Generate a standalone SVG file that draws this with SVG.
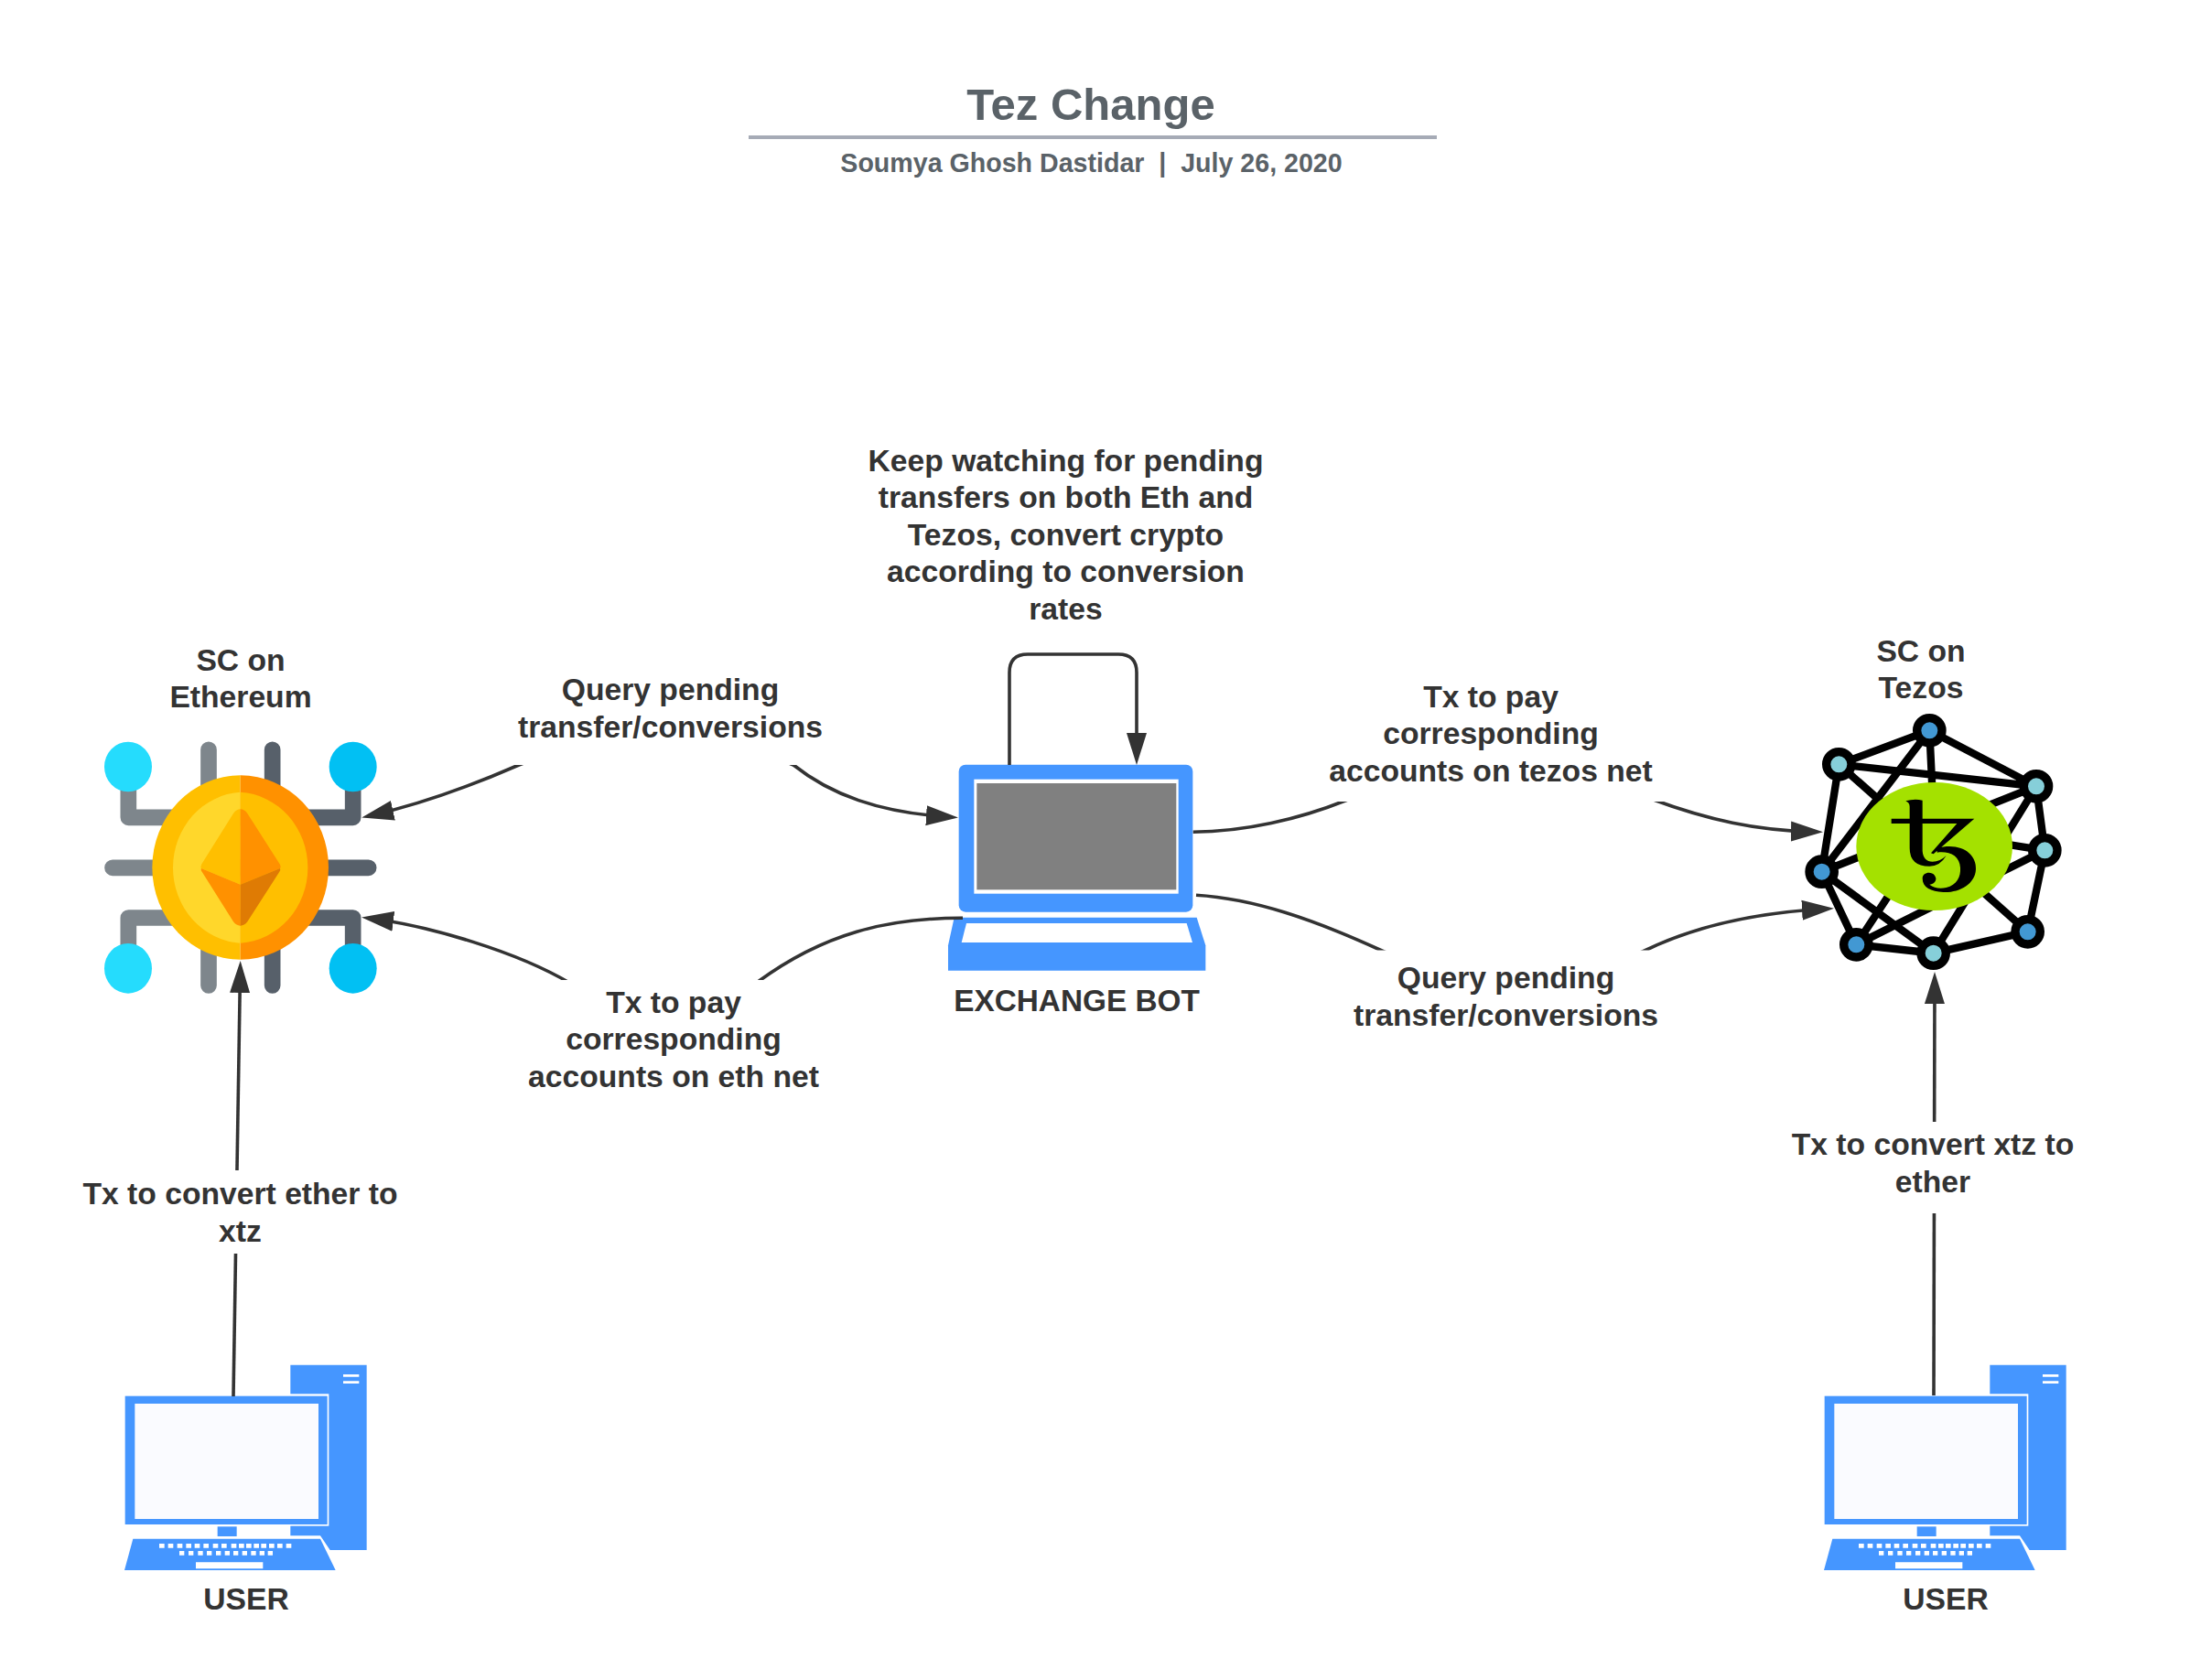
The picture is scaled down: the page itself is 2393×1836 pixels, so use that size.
<svg xmlns="http://www.w3.org/2000/svg" width="2393" height="1836" viewBox="0 0 2393 1836">
<style>
text{font-family:"Liberation Sans",Arial,sans-serif;font-weight:700;font-size:33.67px;fill:#333;text-anchor:middle}
.title{font-size:49px;fill:#5a6268}
.sub{font-size:28.6px;fill:#5a6268;white-space:pre}
.bot{font-size:33.33px}
.c{fill:none;stroke:#333;stroke-width:3.6}
.b{fill:#fff}
.blue{fill:#4596ff}
.e{stroke:#000;stroke-width:25;fill:none}
.n{stroke:#000;stroke-width:28}
.d{fill:#4298d3}
.l{fill:#86cfd9}
.g1{stroke:#7e868c;stroke-width:53;fill:none;stroke-linejoin:round;stroke-linecap:round}
.g2{stroke:#57606a;stroke-width:53;fill:none;stroke-linejoin:round;stroke-linecap:round}
</style>
<defs>
<marker id="arrow" markerUnits="userSpaceOnUse" markerWidth="36" markerHeight="24" viewBox="0 0 36 24" refX="25" refY="12" orient="auto-start-reverse">
<path d="M0,1 L35,12 L0,23 Z" fill="#333"/>
</marker>
<g id="pc" transform="translate(120 1480) scale(.33333)">
<path class="blue" d="M592,35 H842 V642 H722 L690,595 H592 Z"/>
<path class="b" d="M765,66 H817 V74 H765 Z M765,88 H817 V96 H765 Z"/>
<rect class="b" x="40" y="130" width="678" height="433"/>
<rect class="blue" x="50" y="137" width="663" height="421"/>
<rect x="82" y="162" width="602" height="378" fill="#fafbff"/>
<rect class="blue" x="353" y="565" width="63" height="32"/>
<path class="blue" d="M76,605 H690 L740,708 H48 Z"/>
<path class="b" d="M162,621h17v14h-17z M191,621h17v14h-17z M221,621h17v14h-17z M250,621h17v14h-17z M278,621h17v14h-17z M307,621h17v14h-17z M338,621h17v14h-17z M366,621h17v14h-17z M398,621h17v14h-17z M423,621h17v14h-17z M447,621h17v14h-17z M472,621h17v14h-17z M496,621h17v14h-17z M522,621h17v14h-17z M549,621h17v14h-17z M578,621h17v14h-17z M228,645h16v14h-16z M258,645h16v14h-16z M289,645h16v14h-16z M318,645h16v14h-16z M348,645h16v14h-16z M377,645h16v14h-16z M405,645h16v14h-16z M434,645h16v14h-16z M463,645h16v14h-16z M491,645h16v14h-16z M518,645h16v14h-16z M282,682h220v21h-220z"/>
</g>
</defs>

<g id="title">
<text class="title" x="1192" y="131">Tez Change</text>
<rect x="818" y="148" width="752" height="4" fill="#a6abb6"/>
<text class="sub" x="1192.5" y="188">Soumya Ghosh Dastidar  |  July 26, 2020</text>
</g>

<g id="node-eth">
<g transform="translate(90 780) scale(.33333)">
<path class="g1" d="M414,118 V891 M99,505 H518 M151,174 V340 H518 M151,835 V669 H518"/>
<path class="g2" d="M623,118 V891 M938,505 H518 M887,174 V340 H518 M887,835 V669 H518"/>
<ellipse cx="150" cy="174" rx="78" ry="82" fill="#25dcfd"/>
<ellipse cx="150" cy="835" rx="78" ry="82" fill="#25dcfd"/>
<ellipse cx="887" cy="174" rx="78" ry="82" fill="#01c0f3"/>
<ellipse cx="887" cy="835" rx="78" ry="82" fill="#01c0f3"/>
<path d="M518,202 A289,302 0 0 0 518,806 Z" fill="#ffbf00"/>
<path d="M518,202 A289,302 0 0 1 518,806 Z" fill="#ff9100"/>
<path d="M518,257 A236,248 0 0 0 518,752 Z" fill="#ffd72b"/>
<path d="M518,257 A236,248 0 0 1 518,752 Z" fill="#ffbf00"/>
<path d="M518,313 Q505,313 495,327 L393,490 Q385,502 390,507 L518,560 Z" fill="#ffbf00"/>
<path d="M518,313 Q531,313 541,327 L645,490 Q653,502 648,507 L518,560 Z" fill="#ff9100"/>
<path d="M390,507 L518,560 V695 Q505,695 495,682 L393,520 Q387,512 390,507 Z" fill="#ff9100"/>
<path d="M648,507 L518,560 V695 Q531,695 541,682 L645,520 Q651,512 648,507 Z" fill="#df7b04"/>
</g>
<text x="263" y="733">SC on</text>
<text x="263" y="773">Ethereum</text>
</g>

<g id="node-bot">
<g transform="translate(1020 700) scale(.33333)">
<rect class="blue" x="83" y="407" width="767" height="483" rx="22"/>
<rect class="b" x="133" y="455" width="670" height="375"/>
<rect x="142" y="468" width="654" height="349" fill="#808080"/>
<path class="blue" d="M68,908 H863 L892,1000 V1082 H48 V1000 Z"/>
<path class="b" d="M108,927 H830 L849,990 H92 Z"/>
</g>
<text class="bot" x="1176.5" y="1105">EXCHANGE BOT</text>
</g>

<g id="node-tezos">
<g transform="translate(1970 770) scale(.33333)">
<path class="e" d="M415,85 L118,196 L62,548 L175,787 L428,815 L737,745 L793,478 L765,268 L415,85 M118,196 L765,268 M415,85 L62,548 M118,196 L737,745 M415,85 L430,400 M428,815 L765,268 M62,548 L765,268 M793,478 L175,787 M793,478 L430,420 M175,787 L430,400 M62,548 L428,815"/>
<circle class="n d" cx="415" cy="85" r="41"/>
<circle class="n l" cx="118" cy="196" r="41"/>
<circle class="n l" cx="765" cy="268" r="41"/>
<circle class="n l" cx="793" cy="478" r="41"/>
<circle class="n d" cx="62" cy="548" r="41"/>
<circle class="n d" cx="737" cy="745" r="41"/>
<circle class="n l" cx="428" cy="815" r="41"/>
<circle class="n d" cx="175" cy="787" r="41"/>
<ellipse cx="431" cy="465" rx="256" ry="210" fill="#a4e100"/>
<path fill="#000" d="M337,316 Q365,308 392,314 V480 Q395,515 425,515 Q450,515 470,495 Q450,530 415,530 Q350,530 350,470 V390 H290 V374 H350 V335 Q350,322 337,316 Z M392,374 H562 L428,490 L420,487 L505,390 H392 Z M440,470 C520,450 570,490 567,540 C565,590 510,618 460,615 C420,612 392,600 392,570 C392,550 420,545 432,560 C445,578 425,590 415,590 C430,602 450,605 470,600 C505,592 518,565 516,535 C514,495 480,480 440,485 Z"/>
</g>
<text x="2099" y="723">SC on</text>
<text x="2099" y="763">Tezos</text>
</g>

<g id="node-user-left">
<use href="#pc"/>
<text x="269" y="1759">USER</text>
</g>

<g id="node-user-right">
<use href="#pc" transform="translate(1857 0)"/>
<text x="2126" y="1759">USER</text>
</g>

<g id="connectors">
<path class="c" marker-start="url(#arrow)" marker-end="url(#arrow)" d="M405,891.3 C455,880 512,860 567,836 C650,800 790,800 867,836 C907,868 960,888 1037,892.8"/>
<path class="c" marker-start="url(#arrow)" d="M405,1003.8 C470,1012 565,1040 624,1075 C680,1115 770,1115 828,1073 C900,1020 970,1003 1052,1003.3"/>
<path class="c" marker-end="url(#arrow)" d="M1303.7,909.3 C1360,909 1420,895 1470,875 C1560,840 1720,840 1804,873 C1866,896 1920,908 1982,909"/>
<path class="c" marker-end="url(#arrow)" d="M1307,978.3 C1370,982 1436,1005 1510,1039 C1590,1075 1720,1075 1797,1039 C1848,1014 1912,998 1994,993.3"/>
<path class="c" marker-end="url(#arrow)" d="M1103,836 V735 Q1103,715 1123,715 H1222 Q1242,715 1242,735 V826"/>
<path class="c" marker-end="url(#arrow)" d="M255,1526 L262.5,1060"/>
<path class="c" marker-end="url(#arrow)" d="M2113,1525 L2114,1072"/>

<g id="label-query-left">
<rect class="b" x="560" y="730" width="320" height="106"/>
<text x="732.5" y="765">Query pending</text>
<text x="732.5" y="806">transfer/conversions</text>
</g>
<g id="label-tx-eth">
<rect class="b" x="610" y="1071" width="235" height="130"/>
<text x="736" y="1106.5">Tx to pay</text>
<text x="736" y="1147">corresponding</text>
<text x="736" y="1187.5">accounts on eth net</text>
</g>
<g id="label-tx-tezos">
<rect class="b" x="1460" y="740" width="360" height="136"/>
<text x="1629" y="772.5">Tx to pay</text>
<text x="1629" y="813">corresponding</text>
<text x="1629" y="853.5">accounts on tezos net</text>
</g>
<g id="label-query-right">
<rect class="b" x="1500" y="1038.5" width="305" height="95"/>
<text x="1645.5" y="1080">Query pending</text>
<text x="1645.5" y="1120.5">transfer/conversions</text>
</g>
<g id="label-user-left">
<rect class="b" x="95" y="1279" width="335" height="91"/>
<text x="262.5" y="1316">Tx to convert ether to</text>
<text x="262.5" y="1356.5">xtz</text>
</g>
<g id="label-user-right">
<rect class="b" x="1960" y="1226" width="310" height="100"/>
<text x="2112" y="1262">Tx to convert xtz to</text>
<text x="2112" y="1303">ether</text>
</g>
<g id="label-loop">
<text x="1164.5" y="514.5">Keep watching for pending</text>
<text x="1164.5" y="555">transfers on both Eth and</text>
<text x="1164.5" y="595.5">Tezos, convert crypto</text>
<text x="1164.5" y="636">according to conversion</text>
<text x="1164.5" y="676.5">rates</text>
</g>
</g>
</svg>
